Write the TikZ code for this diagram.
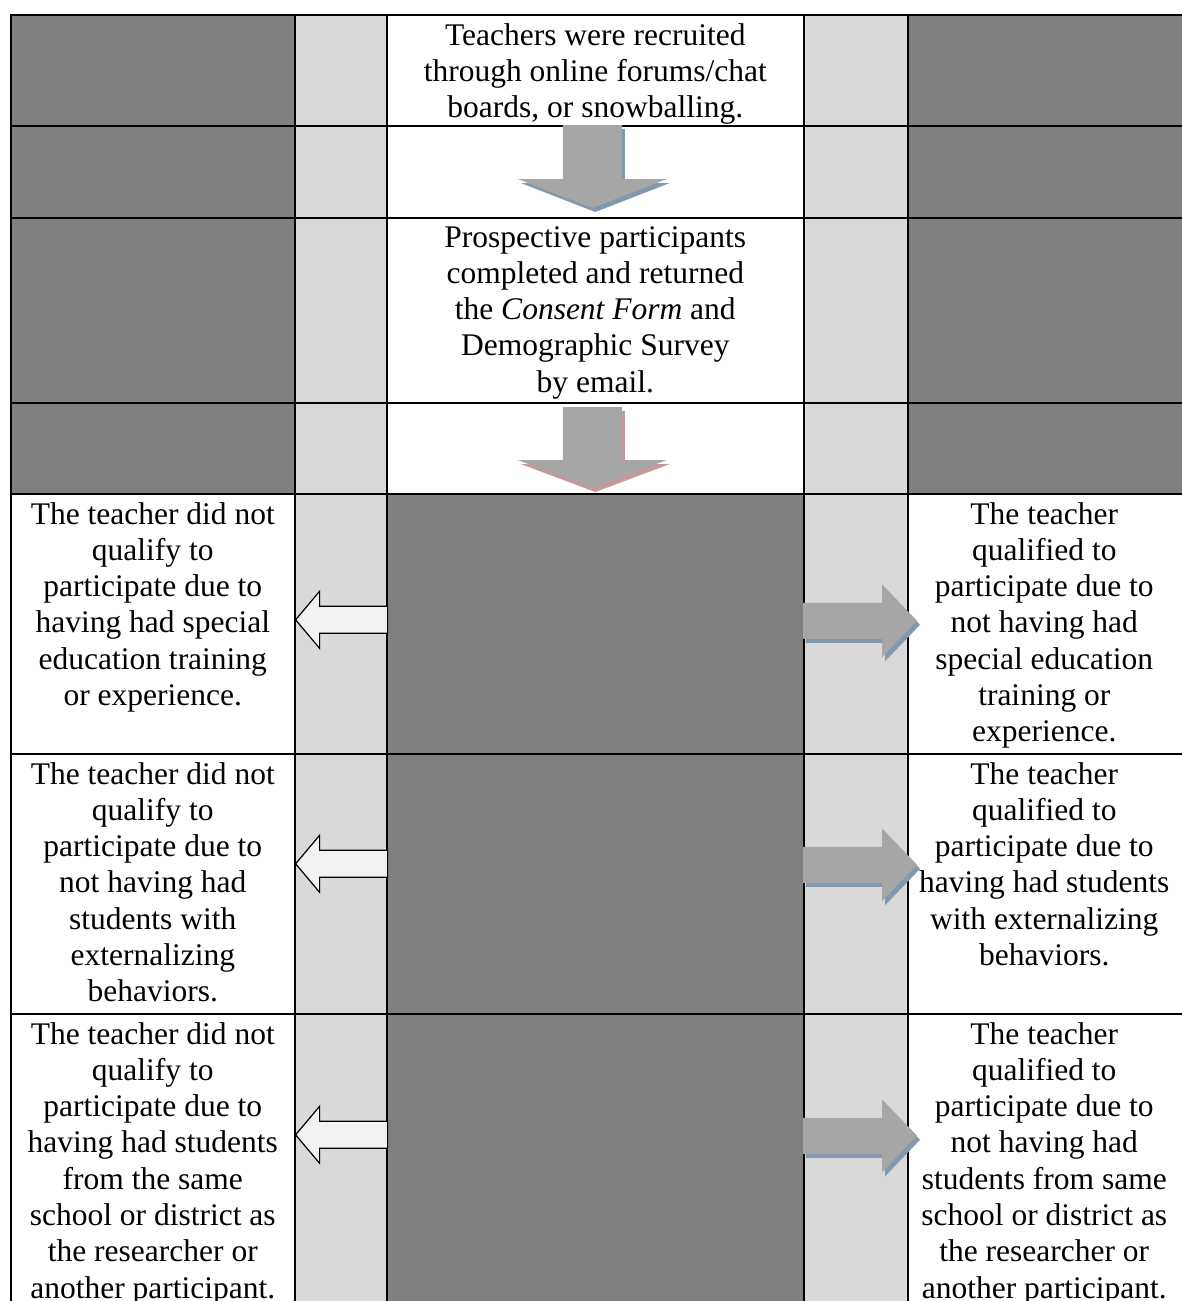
\documentclass[tikz,border=0pt]{standalone}
\usepackage{fontspec}
\setmainfont{Liberation Serif}
\usetikzlibrary{positioning, calc}

\definecolor{darkfill}{RGB}{128,128,128}
\definecolor{lightfill}{RGB}{217,217,217}
\definecolor{outfill}{RGB}{242,242,242}
\definecolor{arrowfill}{RGB}{166,166,166}
\definecolor{blueshade}{RGB}{132,151,176}
\definecolor{redshade}{RGB}{198,152,152}

\tikzstyle{cell} = [rectangle, draw=black, line width=1.6pt, inner sep=0pt, anchor=north west]
\tikzstyle{darkcell} = [cell, fill=darkfill]
\tikzstyle{lightcell} = [cell, fill=lightfill]
\tikzstyle{whitecell} = [cell, fill=white]
\tikzstyle{celltext} = [inner sep=0pt, align=center, font={\fontsize{31.5}{36.3}\selectfont}]
\tikzstyle{outarrow} = [draw=black, line width=1.2pt, fill=outfill]
\tikzstyle{inarrow} = [fill=arrowfill]
\tikzstyle{blueshadow} = [preaction={fill=blueshade, transform canvas={xshift=3pt, yshift=-4pt}}]
\tikzstyle{redshadow} = [preaction={fill=redshade, transform canvas={xshift=3pt, yshift=-4pt}}]

\begin{document}
\begin{tikzpicture}[x=1pt, y=-1pt]
    \useasboundingbox (0,0) rectangle (1181,1301);
    \fill [white] (0,0) rectangle (1181,1301);

    % Grid cells, upper rows (steps down the middle column)
    \foreach \r/\top/\h in {1/14/111, 2/125/92, 3/217/185, 4/402/91} {
        \node (r\r-c1) [darkcell, minimum width=284pt, minimum height=\h pt] at (10,\top) {};
        \node (r\r-c2) [lightcell, minimum width=92pt, minimum height=\h pt] at (294,\top) {};
        \node (r\r-c3) [whitecell, minimum width=417pt, minimum height=\h pt] at (386,\top) {};
        \node (r\r-c4) [lightcell, minimum width=104pt, minimum height=\h pt] at (803,\top) {};
        \node (r\r-c5) [darkcell, minimum width=277pt, minimum height=\h pt] at (907,\top) {};
    }

    % Grid cells, lower rows (outcomes left and right)
    \foreach \r/\top/\h in {5/493/260, 6/753/260, 7/1013/299} {
        \node (r\r-c1) [whitecell, minimum width=284pt, minimum height=\h pt] at (10,\top) {};
        \node (r\r-c2) [lightcell, minimum width=92pt, minimum height=\h pt] at (294,\top) {};
        \node (r\r-c3) [darkcell, minimum width=417pt, minimum height=\h pt] at (386,\top) {};
        \node (r\r-c4) [lightcell, minimum width=104pt, minimum height=\h pt] at (803,\top) {};
        \node (r\r-c5) [whitecell, minimum width=277pt, minimum height=\h pt] at (907,\top) {};
    }

    % Steps
    \node (recruit) [celltext, below=9pt of r1-c3.north] {Teachers were recruited\\through online forums/chat\\boards, or snowballing.};
    \node (consent) [celltext, below=9pt of r3-c3.north] {Prospective participants\\completed and returned\\the \textit{Consent Form} and\\Demographic Survey\\by email.};

    % Outcomes, not qualified
    \node (noTraining) [celltext, below=9pt of r5-c1.north] {The teacher did not\\qualify to\\participate due to\\having had special\\education training\\or experience.};
    \node (noStudents) [celltext, below=9pt of r6-c1.north] {The teacher did not\\qualify to\\participate due to\\not having had\\students with\\externalizing\\behaviors.};
    \node (noSchool) [celltext, below=9pt of r7-c1.north] {The teacher did not\\qualify to\\participate due to\\having had students\\from the same\\school or district as\\the researcher or\\another participant.};

    % Outcomes, qualified
    \node (okTraining) [celltext, below=9pt of r5-c5.north, xshift=-2pt] {The teacher\\qualified to\\participate due to\\not having had\\special education\\training or\\experience.};
    \node (okStudents) [celltext, below=9pt of r6-c5.north, xshift=-2pt] {The teacher\\qualified to\\participate due to\\having had students\\with externalizing\\behaviors.};
    \node (okSchool) [celltext, below=9pt of r7-c5.north, xshift=-2pt] {The teacher\\qualified to\\participate due to\\not having had\\students from same\\school or district as\\the researcher or\\another participant.};

    % Down arrows between steps
    \fill [inarrow, blueshadow] ($(r2-c3.north)+(-32.5,0)$) -- ++(0,54) -- ++(-45,0) -- ++(74.5,29) -- ++(74.5,-29) -- ++(-45,0) -- ++(0,-54) -- cycle;
    \fill [inarrow, redshadow] ($(r4-c3.north)+(-32.5,5)$) -- ++(0,53) -- ++(-45,0) -- ++(74.5,28) -- ++(74.5,-28) -- ++(-45,0) -- ++(0,-53) -- cycle;

    % Arrows to "did not qualify"
    \draw [outarrow] ($(r5-c2.east)+(0,-17.5)$) -- ++(-68,0) -- ++(0,-15) -- ++(-24,28.5) -- ++(24,28.5) -- ++(0,-15) -- ++(68,0) -- cycle;
    \draw [outarrow] ($(r6-c2.east)+(0,-33.5)$) -- ++(-68,0) -- ++(0,-15) -- ++(-24,28.5) -- ++(24,28.5) -- ++(0,-15) -- ++(68,0) -- cycle;
    \draw [outarrow] ($(r7-c2.east)+(0,-42)$) -- ++(-68,0) -- ++(0,-15) -- ++(-24,28.5) -- ++(24,28.5) -- ++(0,-15) -- ++(68,0) -- cycle;

    % Arrows to "qualified"
    \fill [inarrow, blueshadow] ($(r5-c4.west)+(0,-21)$) -- ++(79,0) -- ++(0,-18.5) -- ++(35,36.5) -- ++(-35,36.5) -- ++(0,-18.5) -- ++(-79,0) -- cycle;
    \fill [inarrow, blueshadow] ($(r6-c4.west)+(0,-37)$) -- ++(79,0) -- ++(0,-18.5) -- ++(35,36.5) -- ++(-35,36.5) -- ++(0,-18.5) -- ++(-79,0) -- cycle;
    \fill [inarrow, blueshadow] ($(r7-c4.west)+(0,-45.5)$) -- ++(79,0) -- ++(0,-18.5) -- ++(35,36.5) -- ++(-35,36.5) -- ++(0,-18.5) -- ++(-79,0) -- cycle;

\end{tikzpicture}
\end{document}
